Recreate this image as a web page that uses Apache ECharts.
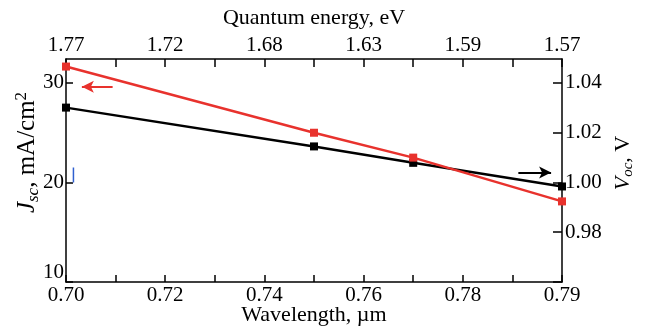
<!DOCTYPE html>
<html>
<head>
<meta charset="utf-8">
<script src="https://cdn.jsdelivr.net/npm/echarts@6/dist/echarts.min.js"></script>
<style>html,body{margin:0;padding:0;background:#fff}#c{width:650px;height:328px}</style>
</head>
<body>
<div id="c"></div>
<script>
// Data (wavelength in µm; last point sits on the right edge, which the figure labels 0.79)
const wavelength = [0.70, 0.75, 0.77, 0.80];
const jsc = [31.65, 25.0, 22.5, 18.1];          // mA/cm2 (red, left axis)
const voc = [1.0301, 1.0145, 1.0079, 0.9984];   // V (black, right axis)

// Tick labels
const xTickValues = [0.70, 0.72, 0.74, 0.76, 0.78, 0.80];
const bottomTickLabels = ['0.70', '0.72', '0.74', '0.76', '0.78', '0.79'];
const topTickLabels = ['1.77', '1.72', '1.68', '1.63', '1.59', '1.57'];
const jscTicks = [10, 20, 30];
const vocTicks = [0.98, 1.00, 1.02, 1.04];

// Annotation arrows / stray mark (data space)
const jscArrow = [[0.7094, 29.63], [0.7032, 29.63]];
const vocArrow = [[0.7912, 1.0040], [0.7978, 1.0040]];
const blueMark = [[0.70150, 20.0], [0.70150, 21.5]];

const FONT = "'Liberation Serif', 'Times New Roman', serif";
const RED = '#e8322d';

function near(a, b) { return Math.abs(a - b) < 1e-6; }
function xLabel(labels) {
  return function (v) {
    for (let i = 0; i < xTickValues.length; i++) if (near(v, xTickValues[i])) return labels[i];
    return '';
  };
}
function yLabel(ticks, digits, raiseFirst) {
  return function (v) {
    for (let i = 0; i < ticks.length; i++) {
      if (near(v, ticks[i])) {
        const s = ticks[i].toFixed(digits);
        return (raiseFirst && i === 0) ? '{up|' + s + '}' : s;
      }
    }
    return '';
  };
}

const chart = echarts.init(document.getElementById('c'));
const axisLine = { show: true, onZero: false, lineStyle: { color: '#000', width: 1.5 } };
const labelStyle = { color: '#000', fontFamily: FONT, fontSize: 21 };

chart.setOption({
  animation: false,
  grid: { left: 66, right: 88, top: 59, bottom: 46, containLabel: false, outerBoundsMode: 'none' },
  xAxis: [
    {
      type: 'value', position: 'bottom', min: 0.70, max: 0.80, interval: 0.01,
      axisLine: axisLine,
      axisTick: { show: true, inside: true, length: 7, lineStyle: { color: '#000', width: 1.5 } },
      axisLabel: Object.assign({ margin: 3, interval: 0, showMinLabel: true, showMaxLabel: true, formatter: xLabel(bottomTickLabels) }, labelStyle),
      splitLine: { show: false },
      name: 'Wavelength, µm', nameLocation: 'middle', nameGap: 22, nameMoveOverlap: false,
      nameTextStyle: { color: '#000', fontFamily: FONT, fontSize: 22 }
    },
    {
      type: 'value', position: 'top', min: 0.70, max: 0.80, interval: 0.01,
      axisLine: axisLine,
      axisTick: { show: true, inside: true, length: 8, lineStyle: { color: '#000', width: 1.5 } },
      axisLabel: Object.assign({ margin: 3, interval: 0, showMinLabel: true, showMaxLabel: true, formatter: xLabel(topTickLabels) }, labelStyle),
      splitLine: { show: false },
      name: 'Quantum energy, eV', nameLocation: 'middle', nameGap: 30, nameMoveOverlap: false,
      nameTextStyle: { color: '#000', fontFamily: FONT, fontSize: 22 }
    }
  ],
  yAxis: [
    {
      type: 'value', position: 'left', min: 10, max: 32.41, interval: 10,
      axisLine: axisLine,
      axisTick: { show: true, inside: true, length: 7, lineStyle: { color: '#000', width: 1.5 } },
      axisLabel: Object.assign({
        margin: 2, showMaxLabel: false, formatter: yLabel(jscTicks, 0, true),
        rich: { up: { fontFamily: FONT, fontSize: 21, color: '#000', padding: [0, 0, 20, 0] } }
      }, labelStyle),
      splitLine: { show: false },
      name: '{i|J}{sub|sc}{n|, mA/cm}{sup|2}', nameLocation: 'middle', nameGap: 24, nameRotate: 90, nameMoveOverlap: false,
      nameTextStyle: {
        color: '#000', fontFamily: FONT, fontSize: 25, padding: [0, 0, 0, 36],
        rich: {
          i: { fontFamily: FONT, fontSize: 25, fontStyle: 'italic', lineHeight: 29, color: '#000' },
          sub: { fontFamily: FONT, fontSize: 17, fontStyle: 'italic', lineHeight: 17, verticalAlign: 'bottom', color: '#000' },
          n: { fontFamily: FONT, fontSize: 25, lineHeight: 29, color: '#000' },
          sup: { fontFamily: FONT, fontSize: 17, lineHeight: 17, verticalAlign: 'top', color: '#000' }
        }
      }
    },
    {
      type: 'value', position: 'right', min: 0.96, max: 1.04964, interval: 0.02,
      axisLine: axisLine,
      axisTick: { show: true, inside: true, length: 9, lineStyle: { color: '#000', width: 1.5 } },
      axisLabel: Object.assign({ margin: 3, showMaxLabel: false, formatter: yLabel(vocTicks, 2, false) }, labelStyle),
      splitLine: { show: false },
      name: '{i|V}{sub|oc}{n|, V}', nameLocation: 'middle', nameGap: 48, nameRotate: 90, nameMoveOverlap: false,
      nameTextStyle: {
        color: '#000', fontFamily: FONT, fontSize: 22, padding: [0, 0, 0, 15],
        rich: {
          i: { fontFamily: FONT, fontSize: 22, fontStyle: 'italic', lineHeight: 26, color: '#000' },
          sub: { fontFamily: FONT, fontSize: 15, fontStyle: 'italic', lineHeight: 15, verticalAlign: 'bottom', color: '#000' },
          n: { fontFamily: FONT, fontSize: 22, lineHeight: 26, color: '#000' }
        }
      }
    }
  ],
  series: [
    {
      name: 'Jsc', type: 'line', xAxisIndex: 0, yAxisIndex: 0,
      data: wavelength.map((w, i) => [w, jsc[i]]),
      symbol: 'rect', symbolSize: 8, showAllSymbol: true, clip: false,
      lineStyle: { color: RED, width: 2.5 }, itemStyle: { color: RED },
      z: 3,
      markLine: {
        silent: true, animation: false, symbol: ['none', 'arrow'], symbolSize: [9, 12],
        label: { show: false }, lineStyle: { color: RED, width: 2, type: 'solid' },
        data: [[{ coord: jscArrow[0] }, { coord: jscArrow[1] }]]
      }
    },
    {
      name: 'Voc', type: 'line', xAxisIndex: 0, yAxisIndex: 1,
      data: wavelength.map((w, i) => [w, voc[i]]),
      symbol: 'rect', symbolSize: 8, showAllSymbol: true, clip: false,
      lineStyle: { color: '#000', width: 2.5 }, itemStyle: { color: '#000' },
      z: 2,
      markLine: {
        silent: true, animation: false, symbol: ['none', 'arrow'], symbolSize: [9, 12],
        label: { show: false }, lineStyle: { color: '#000', width: 2, type: 'solid' },
        data: [[{ coord: vocArrow[0] }, { coord: vocArrow[1] }]]
      }
    },
    {
      name: 'mark', type: 'line', xAxisIndex: 0, yAxisIndex: 0,
      data: blueMark, symbol: 'none', silent: true,
      lineStyle: { color: '#3060d0', width: 1.5 }, z: 1
    }
  ]
});
</script>
</body>
</html>
